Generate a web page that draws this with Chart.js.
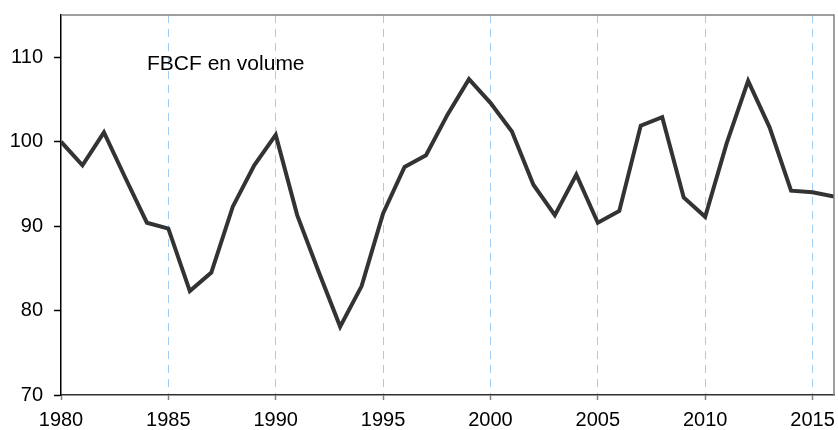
<!DOCTYPE html>
<html>
<head>
<meta charset="utf-8">
<script src="https://cdn.jsdelivr.net/npm/chart.js@4/dist/chart.umd.min.js"></script>
<style>
html,body{margin:0;padding:0;background:#fff;}
#wrap{width:838px;height:430px;}
</style>
</head>
<body>
<div id="wrap"><canvas id="c" width="838" height="430"></canvas></div>
<script>
const years = [1980,1981,1982,1983,1984,1985,1986,1987,1988,1989,1990,1991,1992,1993,1994,1995,1996,1997,1998,1999,2000,2001,2002,2003,2004,2005,2006,2007,2008,2009,2010,2011,2012,2013,2014,2015,2016];
const fbcf = [100,97.2,101.1,95.7,90.4,89.7,82.3,84.5,92.3,97.2,100.8,91.3,84.6,78.1,82.9,91.5,97.0,98.4,103.2,107.4,104.6,101.2,94.9,91.3,96.1,90.4,91.8,101.9,102.9,93.4,91.1,99.8,107.2,101.7,94.2,94.0,93.5];
const yTicks = [70,80,90,100,110];
const xTicks = [1980,1985,1990,1995,2000,2005,2010,2015];
const labelText = 'FBCF en volume';
const FONT = "'Liberation Sans', Arial, sans-serif";

const frame = {
  id: 'frame',
  afterDraw(chart) {
    const {ctx, chartArea: a} = chart;
    ctx.save();
    ctx.strokeStyle = '#808080';
    ctx.lineWidth = 1.5;
    ctx.beginPath();
    ctx.moveTo(a.left, a.top);
    ctx.lineTo(a.right, a.top);
    ctx.lineTo(a.right, a.bottom);
    ctx.stroke();
    ctx.fillStyle = '#000';
    ctx.font = '21px ' + FONT;
    ctx.textBaseline = 'alphabetic';
    ctx.fillText(labelText, 147, 70);
    ctx.restore();
  }
};

new Chart(document.getElementById('c'), {
  type: 'line',
  data: {
    datasets: [{
      data: years.map((y, i) => ({x: y, y: fbcf[i]})),
      borderColor: '#333333',
      borderWidth: 4,
      pointRadius: 0,
      tension: 0,
      fill: false
    }]
  },
  options: {
    responsive: false,
    animation: false,
    events: [],
    layout: {padding: {top: 15, right: 4, left: 0, bottom: 0}},
    plugins: {legend: {display: false}, tooltip: {enabled: false}},
    scales: {
      x: {
        type: 'linear',
        min: 1980,
        max: 2016,
        afterBuildTicks: s => { s.ticks = xTicks.map(v => ({value: v})); },
        afterFit: s => { s.height = 35; s.paddingLeft = 0; s.paddingRight = 0; },
        ticks: {
          color: '#000',
          font: {family: FONT, size: 20},
          padding: 8,
          maxRotation: 0,
          autoSkip: false,
          callback: v => String(v)
        },
        grid: {
          color: c => (c.tick && c.tick.value === 1980) ? 'rgba(0,0,0,0)' : '#9fcdf5',
          lineWidth: 1,
          drawTicks: true,
          tickLength: 5,
          tickColor: '#808080',
          tickWidth: 1.5
        },
        border: {display: true, color: '#303030', width: 1.5, dash: [8, 6]}
      },
      y: {
        min: 70,
        max: 115,
        afterBuildTicks: s => { s.ticks = yTicks.map(v => ({value: v})); },
        afterFit: s => { s.width = 61; s.paddingTop = 0; s.paddingBottom = 0; },
        ticks: {
          color: '#000',
          font: {family: FONT, size: 20},
          padding: 11,
          callback: v => String(v)
        },
        grid: {
          drawOnChartArea: false,
          drawTicks: true,
          tickLength: 7,
          tickColor: '#000',
          tickWidth: 1.5
        },
        border: {display: true, color: '#000', width: 1.5}
      }
    }
  },
  plugins: [frame]
});
</script>
</body>
</html>
